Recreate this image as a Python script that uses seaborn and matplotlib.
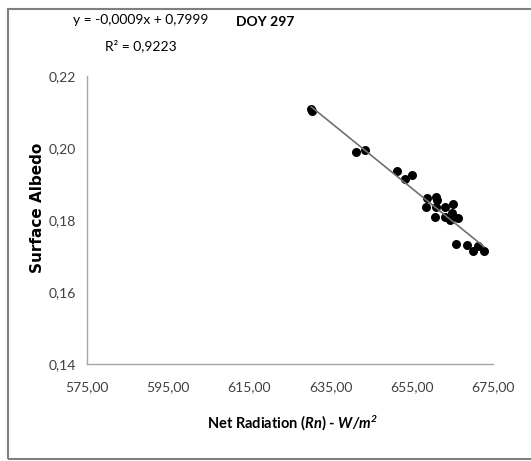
import numpy as np
import pandas as pd
import matplotlib
matplotlib.use("Agg")
import matplotlib.pyplot as plt
import seaborn as sns
from matplotlib.patches import Rectangle

net_radiation = [630.2, 630.4, 641.3, 643.5, 651.4, 653.4, 655.0, 658.7, 658.5,
                 660.9, 661.1, 660.9, 660.7, 663.3, 665.2, 665.0, 663.3, 664.4,
                 666.5, 665.8, 668.5, 670.0, 671.4, 672.8]
albedo = [0.2108, 0.2102, 0.1988, 0.1994, 0.1935, 0.1915, 0.1924, 0.1860, 0.1837,
          0.1865, 0.1856, 0.1835, 0.1809, 0.1837, 0.1844, 0.1820, 0.1809, 0.1800,
          0.1806, 0.1733, 0.1731, 0.1714, 0.1729, 0.1714]
x_ticks = [575, 595, 615, 635, 655, 675]
y_ticks = [0.14, 0.16, 0.18, 0.20, 0.22]
equation_text = "y = -0,0009x + 0,7999"
r2_text = "R² = 0,9223"
title_text = "DOY 297"

df = pd.DataFrame({"rn": net_radiation, "alb": albedo})

sns.set_style("white")
plt.rcParams['font.family'] = ['Lato', 'DejaVu Sans']
plt.rcParams['mathtext.fontset'] = 'custom'
plt.rcParams['mathtext.bfit'] = 'Lato:italic:bold'
plt.rcParams['mathtext.it'] = 'Lato:italic'
plt.rcParams['mathtext.bf'] = 'Lato:bold'
plt.rcParams['mathtext.rm'] = 'Lato'

fig = plt.figure(figsize=(5.31, 4.61), dpi=100)
ax = fig.add_axes([87/531, 1 - 364/461, (493-87)/531, (364-76)/461])

sns.regplot(data=df, x="rn", y="alb", ax=ax, ci=None, truncate=True,
            scatter_kws=dict(s=42, color="black", edgecolor="black", linewidths=0, alpha=1),
            line_kws=dict(color="#707070", lw=1.2))

ax.set_xlim(575, 675)
ax.set_ylim(0.14, 0.22)
ax.set_xticks(x_ticks)
ax.set_yticks(y_ticks)
ax.set_xticklabels([f"{v:.2f}".replace(".", ",") for v in x_ticks])
ax.set_yticklabels([f"{v:.2f}".replace(".", ",") for v in y_ticks])

for s in ["top", "right"]:
    ax.spines[s].set_visible(False)
for s in ["left", "bottom"]:
    ax.spines[s].set_color("#a6a6a6")
    ax.spines[s].set_linewidth(1)
ax.tick_params(axis="both", direction="out", length=5, width=1, color="#a6a6a6",
               labelsize=10, labelcolor="#404040")
ax.tick_params(axis="x", pad=7)
ax.tick_params(axis="y", pad=3)
ax.set_xlabel("")
ax.set_ylabel("")

fig.text(37/531, 1 - 208/461, "Surface Albedo", rotation=90, ha="center", va="center",
         fontsize=11, fontweight="bold", color="black", family=['DejaVu Sans'])
fig.text(292/531, 1 - 423/461,
         r"Net Radiation ($\mathbfit{Rn}$) - $\mathbfit{W/m^2}$",
         ha="center", va="center", fontsize=10.5, fontweight="bold", color="black")
fig.text(141/531, 1 - 20/461, equation_text, ha="center", va="center", fontsize=10, color="black")
fig.text(141/531, 1 - 46/461, r2_text, ha="center", va="center", fontsize=10, color="black")
fig.text(265/531, 1 - 22/461, title_text, ha="center", va="center", fontsize=10,
         fontweight="bold", color="black")

fig.patches.append(Rectangle((8/531, 2/461), 1.0, (459-9)/461, transform=fig.transFigure,
                             fill=False, edgecolor="#7f7f7f", lw=1.5))

fig.savefig("out.png", dpi=100)
